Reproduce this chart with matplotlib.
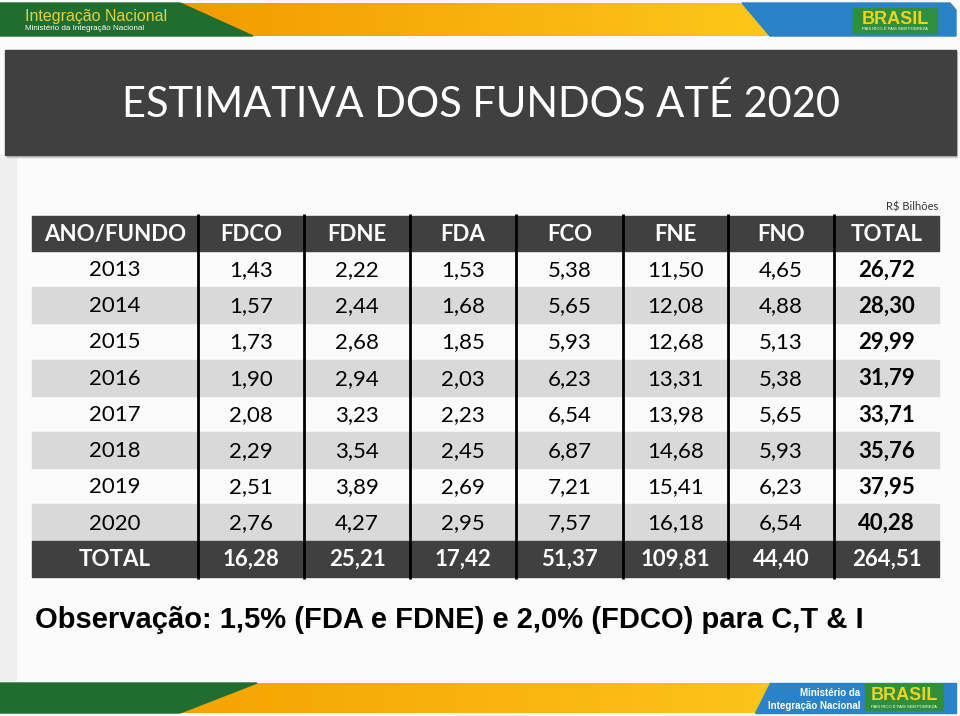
import numpy as np
import matplotlib.pyplot as plt
from matplotlib.patches import Rectangle, Polygon
from matplotlib.colors import LinearSegmentedColormap

# Table data (R$ bilhões)
years = ['2013', '2014', '2015', '2016', '2017', '2018', '2019', '2020']
funds = ['FDCO', 'FDNE', 'FDA', 'FCO', 'FNE', 'FNO']
fdco = [1.43, 1.57, 1.73, 1.90, 2.08, 2.29, 2.51, 2.76]
fdne = [2.22, 2.44, 2.68, 2.94, 3.23, 3.54, 3.89, 4.27]
fda = [1.53, 1.68, 1.85, 2.03, 2.23, 2.45, 2.69, 2.95]
fco = [5.38, 5.65, 5.93, 6.23, 6.54, 6.87, 7.21, 7.57]
fne = [11.50, 12.08, 12.68, 13.31, 13.98, 14.68, 15.41, 16.18]
fno = [4.65, 4.88, 5.13, 5.38, 5.65, 5.93, 6.23, 6.54]
row_totals = [26.72, 28.30, 29.99, 31.79, 33.71, 35.76, 37.95, 40.28]
col_totals = [16.28, 25.21, 17.42, 51.37, 109.81, 44.40]
grand_total = 264.51

title = 'ESTIMATIVA DOS FUNDOS ATÉ 2020'
note = 'Observação: 1,5% (FDA e FDNE) e 2,0% (FDCO) para C,T & I'


def br(v):
    return f'{v:.2f}'.replace('.', ',')


fig = plt.figure(figsize=(9.6, 7.16), dpi=100)
ax = fig.add_axes([0, 0, 1, 1])
ax.set_xlim(0, 960)
ax.set_ylim(716, 0)
ax.axis('off')

# slide background
ax.add_patch(Rectangle((0, 0), 960, 716, color='#fbfbfb', zorder=0))
ax.add_patch(Rectangle((0, 155), 16, 525, color='#efefef', zorder=0))


def gradient_poly(pts, c1, c2, z=1):
    poly = Polygon(pts, closed=True, facecolor='none', edgecolor='none', zorder=z)
    ax.add_patch(poly)
    xs = [p[0] for p in pts]
    ys = [p[1] for p in pts]
    grad = np.linspace(0, 1, 256).reshape(1, -1)
    cmap = LinearSegmentedColormap.from_list('g', [c1, c2])
    im = ax.imshow(grad, cmap=cmap, extent=[min(xs), max(xs), max(ys), min(ys)],
                   aspect='auto', zorder=z)
    im.set_clip_path(poly)


# top banner
gradient_poly([(175, 3), (748, 3), (775, 36), (245, 36)], '#f39a00', '#fdc81a')
ax.add_patch(Polygon([(0, 3), (180, 3), (253, 36), (0, 36)], color='#1f6e30', zorder=2))
ax.add_patch(Polygon([(742, 3), (950, 3), (956, 10), (956, 36), (770, 36)], color='#2a82c9', zorder=2))
ax.text(25, 16, 'Integração Nacional', color='#e6cf3c', fontsize=11.5,
        family='Liberation Sans', va='center', ha='left', zorder=3)
ax.text(25, 29, 'Ministério da Integração Nacional', color='white', fontsize=5.8,
        family='Liberation Sans', va='center', ha='left', zorder=3)
ax.add_patch(Rectangle((853, 8), 84, 25, color='#2f8f3c', zorder=3))
ax.text(895, 19, 'BRASIL', color='#f4d21b', fontsize=13, fontweight='bold',
        family='Liberation Sans', ha='center', va='center', zorder=4)
ax.text(895, 29.5, 'PAÍS RICO É PAÍS SEM POBREZA', color='white', fontsize=3,
        family='Liberation Sans', ha='center', va='center', zorder=4)

# bottom banner
gradient_poly([(185, 683), (775, 683), (760, 713), (180, 713)], '#f5a300', '#fdc41a')
ax.add_patch(Polygon([(0, 683), (257, 683), (180, 713), (0, 713)], color='#1f6e30', zorder=2))
ax.add_patch(Polygon([(770, 683), (956, 683), (956, 713), (755, 713)], color='#2a82c9', zorder=2))
ax.text(860, 693, 'Ministério da', color='white', fontsize=7, fontweight='bold',
        family='Liberation Sans', ha='right', va='center', zorder=3)
ax.text(860, 706, 'Integração Nacional', color='white', fontsize=7, fontweight='bold',
        family='Liberation Sans', ha='right', va='center', zorder=3)
ax.add_patch(Rectangle((865, 684), 78, 26, color='#2f8f3c', zorder=3))
ax.text(904, 695, 'BRASIL', color='#f4d21b', fontsize=13, fontweight='bold',
        family='Liberation Sans', ha='center', va='center', zorder=4)
ax.text(904, 706.5, 'PAÍS RICO É PAÍS SEM POBREZA', color='white', fontsize=3,
        family='Liberation Sans', ha='center', va='center', zorder=4)

# title box
ax.add_patch(Rectangle((7, 52), 950, 105, color='#c8c8c8', zorder=1))
ax.add_patch(Rectangle((5, 50), 951, 105, color='#404040', zorder=2))
ax.text(481, 104, title, color='white', fontsize=30, family='Lato',
        ha='center', va='center', zorder=3)

# table geometry
col_edges = [32, 198, 304, 410, 516, 623, 728, 834, 939]
top = 216
head_h = 35
row_h = 36.2
dark = '#404040'
light = '#d9d9d9'
fs = 16

ax.text(938, 207, 'R$ Bilhões', fontsize=8, family='Lato', color='#333333',
        ha='right', va='center')

headers = ['ANO/FUNDO'] + funds + ['TOTAL']
ax.add_patch(Rectangle((col_edges[0], top), col_edges[-1] - col_edges[0], head_h,
                       color=dark, zorder=2))
for i, h in enumerate(headers):
    cx = (col_edges[i] + col_edges[i + 1]) / 2
    ax.text(cx, top + head_h / 2 + 1, h, color='white', fontsize=fs, fontweight='bold',
            family='Lato', ha='center', va='center', zorder=4)

table_cols = [fdco, fdne, fda, fco, fne, fno]
for r, year in enumerate(years):
    y0 = top + head_h + r * row_h
    if r % 2 == 1:
        ax.add_patch(Rectangle((col_edges[0], y0), col_edges[-1] - col_edges[0], row_h,
                               color=light, zorder=2))
    cells = [year] + [br(c[r]) for c in table_cols] + [br(row_totals[r])]
    for i, txt in enumerate(cells):
        cx = (col_edges[i] + col_edges[i + 1]) / 2
        ax.text(cx, y0 + row_h / 2 + 1, txt, color='black', fontsize=fs,
                fontweight='bold' if i == len(cells) - 1 else 'normal',
                family='Lato', ha='center', va='center', zorder=4)

y0 = top + head_h + len(years) * row_h
ax.add_patch(Rectangle((col_edges[0], y0), col_edges[-1] - col_edges[0], row_h,
                       color=dark, zorder=2))
cells = ['TOTAL'] + [br(v) for v in col_totals] + [br(grand_total)]
for i, txt in enumerate(cells):
    cx = (col_edges[i] + col_edges[i + 1]) / 2
    ax.text(cx, y0 + row_h / 2 + 1, txt, color='white', fontsize=fs, fontweight='bold',
            family='Lato', ha='center', va='center', zorder=4)

bottom = y0 + row_h
for x in col_edges[1:-1]:
    ax.plot([x, x], [top - 2, bottom + 2], color='black', lw=2, zorder=3,
            solid_capstyle='butt')

ax.text(35, 620, note, fontsize=21, fontweight='bold', family='Liberation Sans',
        color='black', ha='left', va='center')

fig.savefig('out.png', dpi=100)
